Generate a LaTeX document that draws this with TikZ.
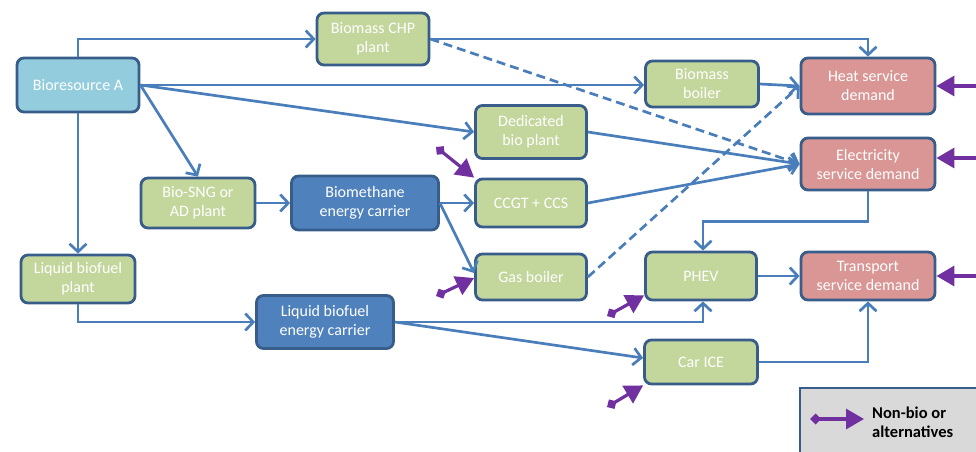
\documentclass[tikz,border=0pt]{standalone}
\usepackage{fontspec}
\setmainfont{Carlito}
\usetikzlibrary{arrows.meta}
\definecolor{lineblue}{HTML}{4A7EBB}
\definecolor{borderblue}{HTML}{385D8A}
\definecolor{greenfill}{HTML}{C3D69B}
\definecolor{redfill}{HTML}{D99694}
\definecolor{darkfill}{HTML}{4F81BD}
\definecolor{lightfill}{HTML}{93CDDD}
\definecolor{purp}{HTML}{7030A0}
\definecolor{legendfill}{HTML}{D9D9D9}
\begin{document}
\begin{tikzpicture}[x=1pt,y=-1pt,
  box/.style={draw=borderblue, line width=2.8pt, rounded corners=7pt, text=white,
    align=center, font=\fontsize{16}{19}\selectfont, inner sep=0pt},
  gbox/.style={box, fill=greenfill},
  rbox/.style={box, fill=redfill},
  dbox/.style={box, fill=darkfill},
  lbox/.style={box, fill=lightfill},
  flow/.style={draw=lineblue, line width=2.7pt, -{Straight Barb[length=8pt,width=17pt,line width=2.7pt]}},
  dflow/.style={flow, dash pattern=on 9pt off 5pt},
  alt/.style={draw=purp, line width=3.2pt, {Diamond[length=11pt,width=11pt]}-{Triangle[length=18pt,width=20pt]}}
]
\useasboundingbox (0,0) rectangle (976,451);

% nodes
\node[lbox, minimum width=122, minimum height=54] (bio) at (78,85) {Bioresource A};
\node[gbox, minimum width=112, minimum height=52] (chp) at (373,39) {Biomass CHP\\plant};
\node[gbox, minimum width=113, minimum height=46] (boiler) at (702,84) {Biomass\\boiler};
\node[rbox, minimum width=134, minimum height=56] (heat) at (868,86) {Heat service\\demand};
\node[gbox, minimum width=111, minimum height=53] (ded) at (531,132) {Dedicated\\bio plant};
\node[rbox, minimum width=134, minimum height=52] (elec) at (868,164) {Electricity\\service demand};
\node[gbox, minimum width=114, minimum height=50] (sng) at (198,203) {Bio-SNG or\\AD plant};
\node[dbox, minimum width=147, minimum height=54] (bmeth) at (365,203) {Biomethane\\energy carrier};
\node[gbox, minimum width=111, minimum height=48] (ccgt) at (531,203) {CCGT + CCS};
\node[gbox, minimum width=111, minimum height=46] (gas) at (531,277) {Gas boiler};
\node[gbox, minimum width=111, minimum height=48] (phev) at (701,276) {PHEV};
\node[rbox, minimum width=134, minimum height=48] (trans) at (868,276) {Transport\\service demand};
\node[gbox, minimum width=114, minimum height=48] (lplant) at (78,279) {Liquid biofuel\\plant};
\node[dbox, minimum width=137, minimum height=53] (lcar) at (325,322) {Liquid biofuel\\energy carrier};
\node[gbox, minimum width=113, minimum height=44] (car) at (701,362) {Car ICE};

% blue flows
\draw[flow] (bio.north) |- (chp.west);
\draw[flow] (chp.east) -| (heat.north);
\draw[dflow] (chp.east) -- (elec.west);
\draw[flow] (bio.east) -- (bio.east -| boiler.west);
\draw[flow] (boiler.east) -- (heat.west);
\draw[flow] (bio.east) -- (ded.west);
\draw[flow] (bio.east) -- (sng.north);
\draw[flow] (bio.south) -- (lplant.north);
\draw[flow] (sng.east) -- (bmeth.west);
\draw[flow] (bmeth.east) -- (ccgt.west);
\draw[flow] (bmeth.east) -- ([yshift=4pt]gas.west);
\draw[flow] (ded.east) -- (elec.west);
\draw[flow] (ccgt.east) -- (elec.west);
\draw[dflow] (gas.east) -- (heat.west);
\draw[flow] (elec.south) -- ++(0,30) -| ([xshift=2pt]phev.north);
\draw[flow] (phev.east) -- (trans.west);
\draw[flow] (lplant.south) |- (lcar.west);
\draw[flow] (lcar.east) -| ([xshift=2pt]phev.south);
\draw[flow] (lcar.east) -- ([yshift=4pt]car.west);
\draw[flow] (car.east) -| (trans.south);

% non-bio alternatives
\coordinate (a1) at (436,147);
\coordinate (a2) at (436,296);
\coordinate (a3) at (607,316);
\coordinate (a4) at (607,407);
\coordinate (a5) at (995,86);
\coordinate (a6) at (995,158);
\coordinate (a7) at (995,276);
\draw[alt] (a1) -- (ccgt.north west);
\draw[alt] (a2) -- ([yshift=-1pt]gas.west);
\draw[alt] (a3) -- ([yshift=6pt]phev.south west);
\draw[alt] (a4) -- (car.south west);
\draw[alt] (a5) -- (heat.east);
\draw[alt] (a6) -- ([yshift=6pt]elec.east);
\draw[alt] (a7) -- (trans.east);

% legend
\node[draw=borderblue, fill=legendfill, line width=2.8pt, minimum width=180, minimum height=66, inner sep=0pt] (legend) at (890,421) {};
\coordinate (l1) at (810,419);
\coordinate (l2) at (864,419);
\draw[alt] (l1) -- (l2);
\node[anchor=west, align=left, font=\fontsize{16.5}{19}\selectfont\bfseries, inner sep=0pt] (ltext) at (872,422) {Non-bio or\\alternatives};
\end{tikzpicture}
\end{document}
